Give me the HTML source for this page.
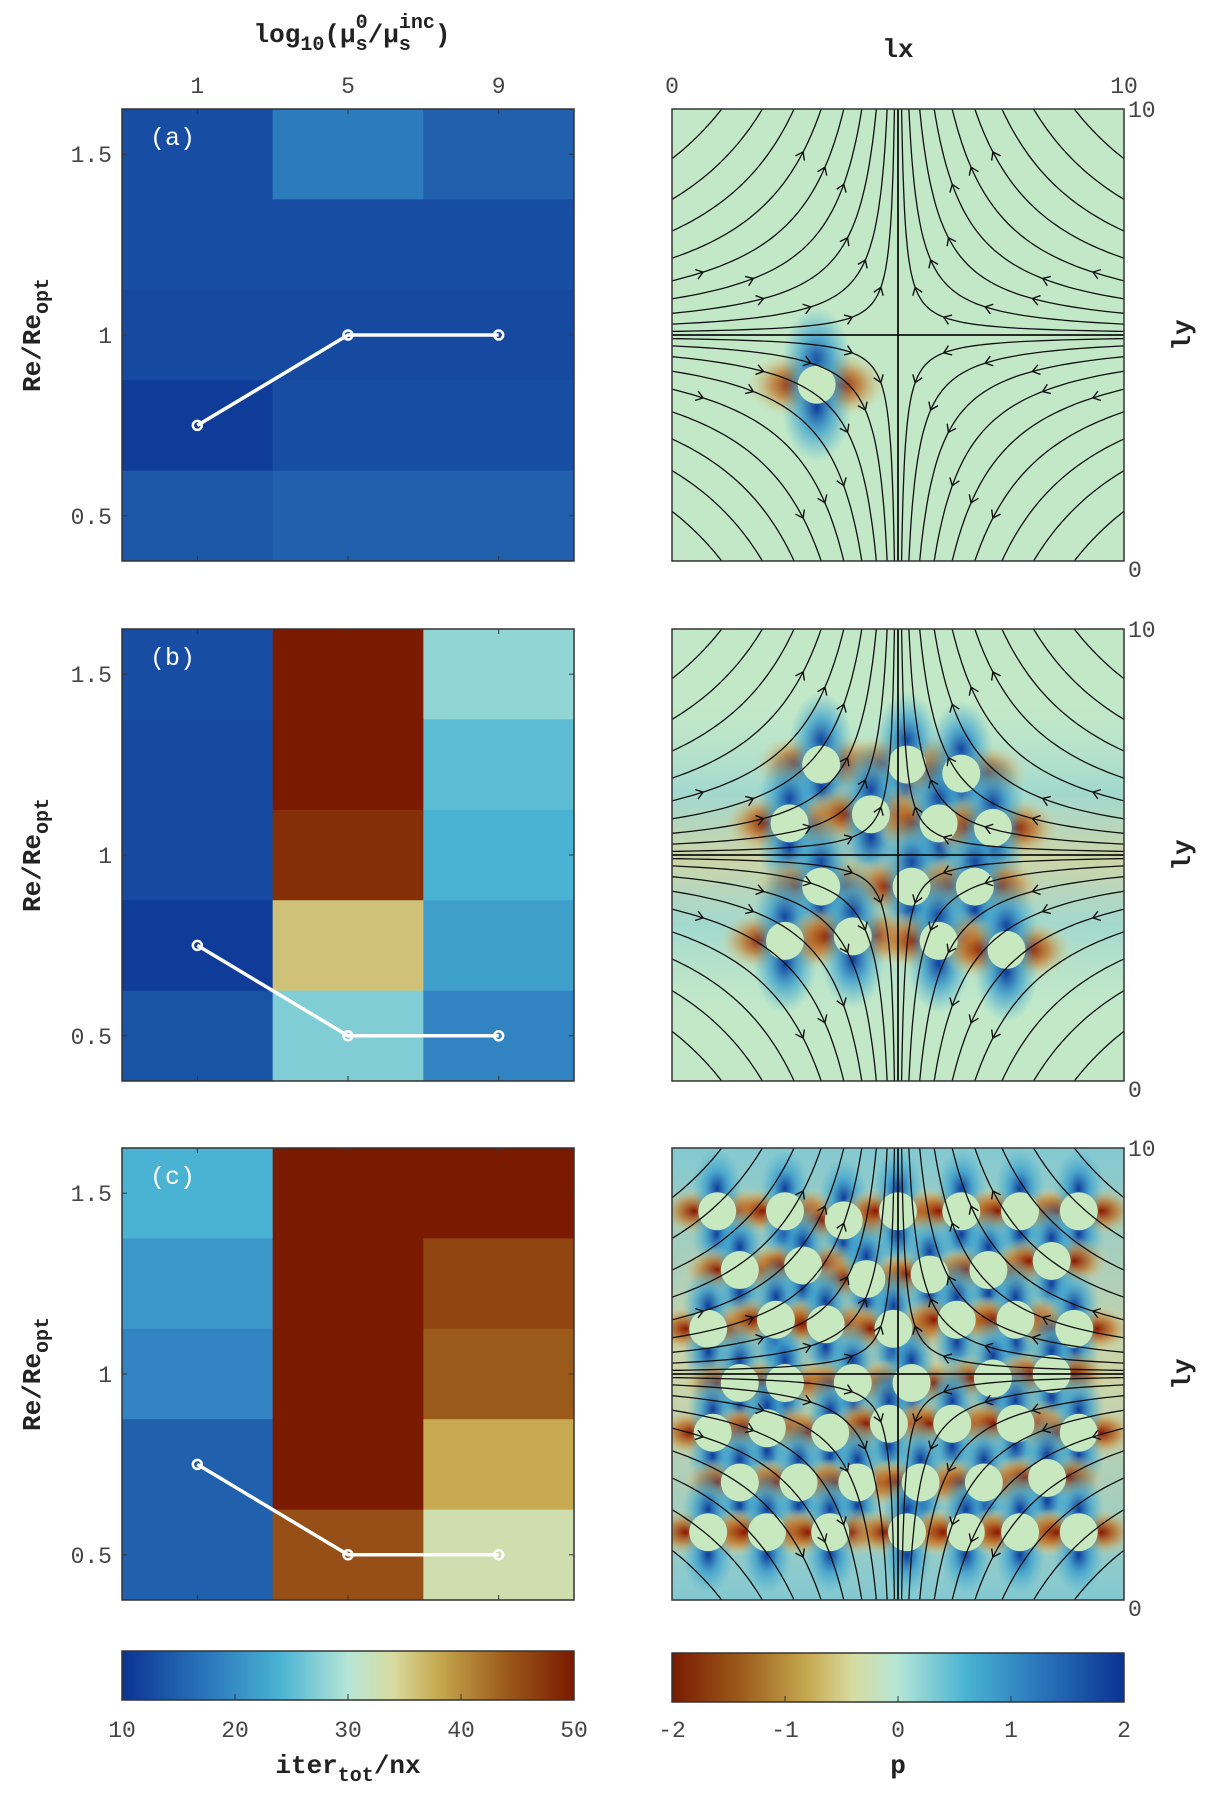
<!DOCTYPE html>
<html><head><meta charset="utf-8"><style>
body{margin:0;background:#fff}
svg text{font-family:"Liberation Mono",monospace}
.tk{font-size:23px;fill:#444}
.lb{font-size:26px;font-weight:bold;fill:#222}
</style></head><body>
<svg id="fig" width="1214" height="1798" viewBox="0 0 1214 1798" xmlns="http://www.w3.org/2000/svg">
<defs>
<linearGradient id="cmapL" x1="0" x2="1" y1="0" y2="0">
<stop offset="0" stop-color="#0b3393"/><stop offset="0.2" stop-color="#2c7bbd"/><stop offset="0.35" stop-color="#4ab3d3"/><stop offset="0.5" stop-color="#b5e6d6"/><stop offset="0.6" stop-color="#d8dba0"/><stop offset="0.7" stop-color="#c6a950"/><stop offset="0.85" stop-color="#9c5a1a"/><stop offset="1" stop-color="#7a1a00"/>
</linearGradient>
<linearGradient id="cmapR" x1="1" x2="0" y1="0" y2="0">
<stop offset="0" stop-color="#0b3393"/><stop offset="0.2" stop-color="#2c7bbd"/><stop offset="0.35" stop-color="#4ab3d3"/><stop offset="0.5" stop-color="#b5e6d6"/><stop offset="0.6" stop-color="#d8dba0"/><stop offset="0.7" stop-color="#c6a950"/><stop offset="0.85" stop-color="#9c5a1a"/><stop offset="1" stop-color="#7a1a00"/>
</linearGradient>
<linearGradient id="bandB" x1="0" x2="0" y1="0" y2="1">
<stop offset="0" stop-color="#c2e8c8" stop-opacity="0"/><stop offset="0.3" stop-color="#7cc6d8" stop-opacity="0.45"/><stop offset="0.5" stop-color="#d8c890" stop-opacity="0.6"/><stop offset="0.7" stop-color="#7cc6d8" stop-opacity="0.45"/><stop offset="1" stop-color="#c2e8c8" stop-opacity="0"/>
</linearGradient>
<linearGradient id="bandC" x1="0" x2="0" y1="0" y2="1">
<stop offset="0" stop-color="#5ab4d8" stop-opacity="0.6"/><stop offset="0.5" stop-color="#d8c890" stop-opacity="0.6"/><stop offset="1" stop-color="#5ab4d8" stop-opacity="0.6"/>
</linearGradient>
<radialGradient id="gRed"><stop offset="0" stop-color="#8a1800" stop-opacity="1"/><stop offset="0.45" stop-color="#c07a30" stop-opacity="0.8"/><stop offset="1" stop-color="#d8dba0" stop-opacity="0"/></radialGradient>
<radialGradient id="gBlue"><stop offset="0" stop-color="#0d3c9a" stop-opacity="1"/><stop offset="0.45" stop-color="#3a9ccc" stop-opacity="0.8"/><stop offset="1" stop-color="#4ab3d3" stop-opacity="0"/></radialGradient>
<clipPath id="clipR"><rect x="0" y="0" width="452" height="452"/></clipPath>
</defs>
<g id="root"></g>
</svg>
<script>
const xCats = [1, 5, 9];
const yCats = [1.5, 1.25, 1.0, 0.75, 0.5];
const heatA = [[13,18,15],[13,13,13],[12.5,12.5,12.5],[11,13,13],[14,15,15]];
const heatB = [[13,50,28],[12.5,50,25],[12.5,48,24],[11,36,22],[13.5,27,19]];
const heatC = [[24,50,50],[21,50,46],[19,50,44],[15,50,38],[15,45,33]];
const optA = [0.75, 1.0, 1.0];
const optB = [0.75, 0.5, 0.5];
const optC = [0.75, 0.5, 0.5];
const xTicks = [1, 5, 9];
const yTicks = [0.5, 1, 1.5];
const cbLTicks = [10, 20, 30, 40, 50];
const cbRTicks = [-2, -1, 0, 1, 2];
const partsA = [[3.2,3.9]];
const partsB = [[3.3,7.0],[5.2,7.0],[6.4,6.8],[2.6,5.7],[4.4,5.9],[5.9,5.7],[7.1,5.6],[3.3,4.3],[5.3,4.3],[6.7,4.3],[2.5,3.1],[4.0,3.2],[5.9,3.1],[7.4,2.9]];
const partsC = [[1.0,8.6],[2.5,8.6],[3.8,8.4],[5.0,8.6],[6.4,8.6],[7.7,8.6],[9.0,8.6],
 [1.5,7.3],[2.9,7.4],[4.3,7.1],[5.7,7.2],[7.0,7.3],[8.4,7.5],
 [0.8,6.0],[2.3,6.2],[3.4,6.1],[4.9,6.0],[6.3,6.2],[7.6,6.2],[8.9,6.0],
 [1.5,4.8],[2.5,4.8],[4.0,4.8],[5.3,4.8],[7.1,4.9],[8.4,5.0],
 [0.9,3.7],[2.1,3.8],[3.5,3.7],[4.8,3.9],[6.2,3.9],[7.6,3.9],[9.0,3.7],
 [1.5,2.6],[2.8,2.6],[4.1,2.6],[5.5,2.6],[6.9,2.6],[8.3,2.7],
 [0.8,1.5],[2.1,1.5],[3.5,1.5],[5.2,1.5],[6.5,1.5],[7.7,1.5],[9.0,1.5]];

const NS="http://www.w3.org/2000/svg";
const root=document.getElementById('root');
function mk(tag,attrs,parent){const e=document.createElementNS(NS,tag);for(const k in attrs)e.setAttribute(k,attrs[k]);(parent||root).appendChild(e);return e;}
function txt(s,attrs,parent){const e=mk('text',attrs,parent);e.textContent=s;return e;}

const stops=[[0,[11,51,147]],[0.2,[44,123,189]],[0.35,[74,179,211]],[0.5,[181,230,214]],[0.6,[216,219,160]],[0.7,[198,169,80]],[0.85,[156,90,26]],[1,[122,26,0]]];
function cmap(v){let t=Math.max(0,Math.min(1,(v-10)/40));for(let i=1;i<stops.length;i++){if(t<=stops[i][0]){const a=stops[i-1],b=stops[i];const f=(t-a[0])/(b[0]-a[0]);const c=a[1].map((x,j)=>Math.round(x+(b[1][j]-x)*f));return `rgb(${c})`;}}return 'rgb(122,26,0)';}

const LX0=122,LX1=574,RX0=672,RX1=1124;
const rowsY=[109,629,1148], H=452;
function xL(v){return LX0+(v+1)/12*(LX1-LX0);}
function yL(v,top){return top+(1.625-v)/1.25*H;}

const heats=[heatA,heatB,heatC], opts=[optA,optB,optC], parts=[partsA,partsB,partsC], tags=['(a)','(b)','(c)'];
heats.forEach((hm,pi)=>{
  const top=rowsY[pi];
  const g=mk('g',{});
  
  
  hm.forEach((row,ri)=>row.forEach((v,ci)=>{
    const x0=xL(xCats[ci]-2),x1=xL(xCats[ci]+2),y0=yL(yCats[ri]+0.125,top),y1=yL(yCats[ri]-0.125,top);
    const r=mk('rect',{x:x0,y:y0,width:x1-x0+0.5,height:y1-y0+0.5,fill:cmap(v)},g);
    
    
  }));
  mk('rect',{x:LX0,y:top,width:LX1-LX0,height:H,fill:'none',stroke:'#333','stroke-width':1.5},g);
  xTicks.forEach(t=>{mk('line',{x1:xL(t),x2:xL(t),y1:top,y2:top+5,stroke:'#333'},g);mk('line',{x1:xL(t),x2:xL(t),y1:top+H,y2:top+H-5,stroke:'#333'},g);});
  yTicks.forEach(t=>{mk('line',{x1:LX0,x2:LX0+5,y1:yL(t,top),y2:yL(t,top),stroke:'#333'},g);mk('line',{x1:LX1,x2:LX1-5,y1:yL(t,top),y2:yL(t,top),stroke:'#333'},g);
    const tl=txt(t===1?'1':t.toFixed(1),{x:LX0-10,y:yL(t,top)+8,'text-anchor':'end',class:'tk'},g);
    });
  const pts=opts[pi].map((v,i)=>xL(xCats[i])+','+yL(v,top)).join(' ');
  const pl=mk('polyline',{points:pts,fill:'none',stroke:'#fff','stroke-width':3.5},g);
  
  opts[pi].forEach((v,i)=>{const c=mk('circle',{cx:xL(xCats[i]),cy:yL(v,top),r:4.5,fill:'none',stroke:'#fff','stroke-width':2.5},g);
    });
  const tg=txt(tags[pi],{x:150,y:top+36,fill:'#fff','font-size':25},g);
  
  const yl=txt('',{transform:`translate(40,${top+H/2}) rotate(-90)`,'text-anchor':'middle',class:'lb'},g);
  yl.innerHTML='Re/Re<tspan dy="8" font-size="20">opt</tspan>';
  

  const rg=mk('g',{transform:`translate(${RX0},${top})`});
  
  
  const inner=mk('g',{'clip-path':'url(#clipR)'},rg);
  mk('rect',{x:0,y:0,width:452,height:452,fill:'#c2e8c8'},inner);
  if(pi===1) mk('rect',{x:0,y:60,width:452,height:340,fill:'url(#bandB)'},inner);
  if(pi===2) mk('rect',{x:0,y:0,width:452,height:452,fill:'url(#bandC)'},inner);
  const S=45.2;
  const ext=pi===0?1.6:(pi===1?1.45:1.15);
  parts[pi].forEach(p=>{
    const cx=p[0]*S,cy=(10-p[1])*S,R=0.42*S;
    [[-1,0],[1,0]].forEach(d=>mk('ellipse',{cx:cx+d[0]*R*1.2,cy:cy,rx:R*ext*1.6,ry:R*ext*1.1,fill:'url(#gRed)'},inner));
    [[0,-1],[0,1]].forEach(d=>mk('ellipse',{cx:cx,cy:cy+d[1]*R*1.2,rx:R*ext*1.15,ry:R*ext*1.8,fill:'url(#gBlue)'},inner));
  });
  parts[pi].forEach(p=>{const c=mk('circle',{cx:p[0]*S,cy:(10-p[1])*S,r:0.42*S,fill:'#c8e8c0'},inner);
    });
  const cs=[0.4,1.2,2.4,4,6,8.5,11.5,15,19.5];
  [[-1,-1],[-1,1],[1,-1],[1,1]].forEach(([sx,sy])=>{
    cs.forEach((c,ci)=>{
      let d='';const n=60;const t0=c/5.2,t1=5.2;
      for(let k=0;k<=n;k++){const t=t0*Math.pow(t1/t0,k/n);const x=(5+sx*t)*S,y=(10-(5+sy*c/t))*S;d+=(k?'L':'M')+x.toFixed(1)+','+y.toFixed(1);}
      mk('path',{d:d,fill:'none',stroke:'#111','stroke-width':1.3},inner);
      [0.6,1.6].forEach(f=>{
        const t=Math.sqrt(c)*f*(1+0.1*(ci%3));
        if(t<c/5||t>5)return;
        const x=(5+sx*t)*S,y=(10-(5+sy*c/t))*S;
        const u=-sx*t, v=sy*c/t; const ang=Math.atan2(-v,u)*180/Math.PI;
        mk('path',{d:'M-7,-5 L0,0 L-7,5',fill:'none',stroke:'#111','stroke-width':1.4,transform:`translate(${x},${y}) rotate(${ang})`},inner);
      });
    });
  });
  mk('line',{x1:0,y1:226,x2:452,y2:226,stroke:'#111','stroke-width':1.8},inner);
  mk('line',{x1:226,y1:0,x2:226,y2:452,stroke:'#111','stroke-width':1.8},inner);
  mk('rect',{x:0,y:0,width:452,height:452,fill:'none',stroke:'#333','stroke-width':1.5},rg);
  txt('10',{x:456,y:8,class:'tk'},rg);
  txt('0',{x:456,y:468,class:'tk'},rg);
  const ly=txt('ly',{transform:`translate(518,226) rotate(-90)`,'text-anchor':'middle',class:'lb'},rg);
  
});

xTicks.forEach(t=>{const e=txt(String(t),{x:xL(t),y:93,'text-anchor':'middle',class:'tk'});});
const xt=txt('',{x:352,y:42,'text-anchor':'middle',class:'lb','font-size':28});
xt.innerHTML='log<tspan dy="8" font-size="20">10</tspan><tspan dy="-8">(μ</tspan><tspan dy="8" font-size="20">s</tspan><tspan dy="-22" dx="-12" font-size="20">0</tspan><tspan dy="14">/μ</tspan><tspan dy="8" font-size="20">s</tspan><tspan dy="-22" dx="-12" font-size="20">inc</tspan><tspan dy="14">)</tspan>';

txt('0',{x:RX0,y:93,'text-anchor':'middle',class:'tk'});
txt('10',{x:RX1,y:93,'text-anchor':'middle',class:'tk'});
const lx=txt('lx',{x:898,y:57,'text-anchor':'middle',class:'lb'});


const cbL=mk('rect',{x:LX0,y:1651,width:452,height:49,fill:'url(#cmapL)',stroke:'#333','stroke-width':1.5});

const cbR=mk('rect',{x:RX0,y:1653,width:452,height:49,fill:'url(#cmapR)',stroke:'#333','stroke-width':1.5});

cbLTicks.forEach(t=>{const x=LX0+(t-10)/40*452;if(t>10&&t<50)mk('line',{x1:x,x2:x,y1:1700,y2:1694,stroke:'#333'});txt(String(t),{x:x,y:1737,'text-anchor':'middle',class:'tk'});});
cbRTicks.forEach(t=>{const x=RX0+(t+2)/4*452;if(t>-2&&t<2)mk('line',{x1:x,x2:x,y1:1702,y2:1696,stroke:'#333'});txt(String(t),{x:x,y:1737,'text-anchor':'middle',class:'tk'});});
const cl=txt('',{x:348,y:1773,'text-anchor':'middle',class:'lb'});
cl.innerHTML='iter<tspan dy="8" font-size="20">tot</tspan><tspan dy="-8">/nx</tspan>';

const cp=txt('p',{x:898,y:1773,'text-anchor':'middle',class:'lb'});

</script>
</body></html>
